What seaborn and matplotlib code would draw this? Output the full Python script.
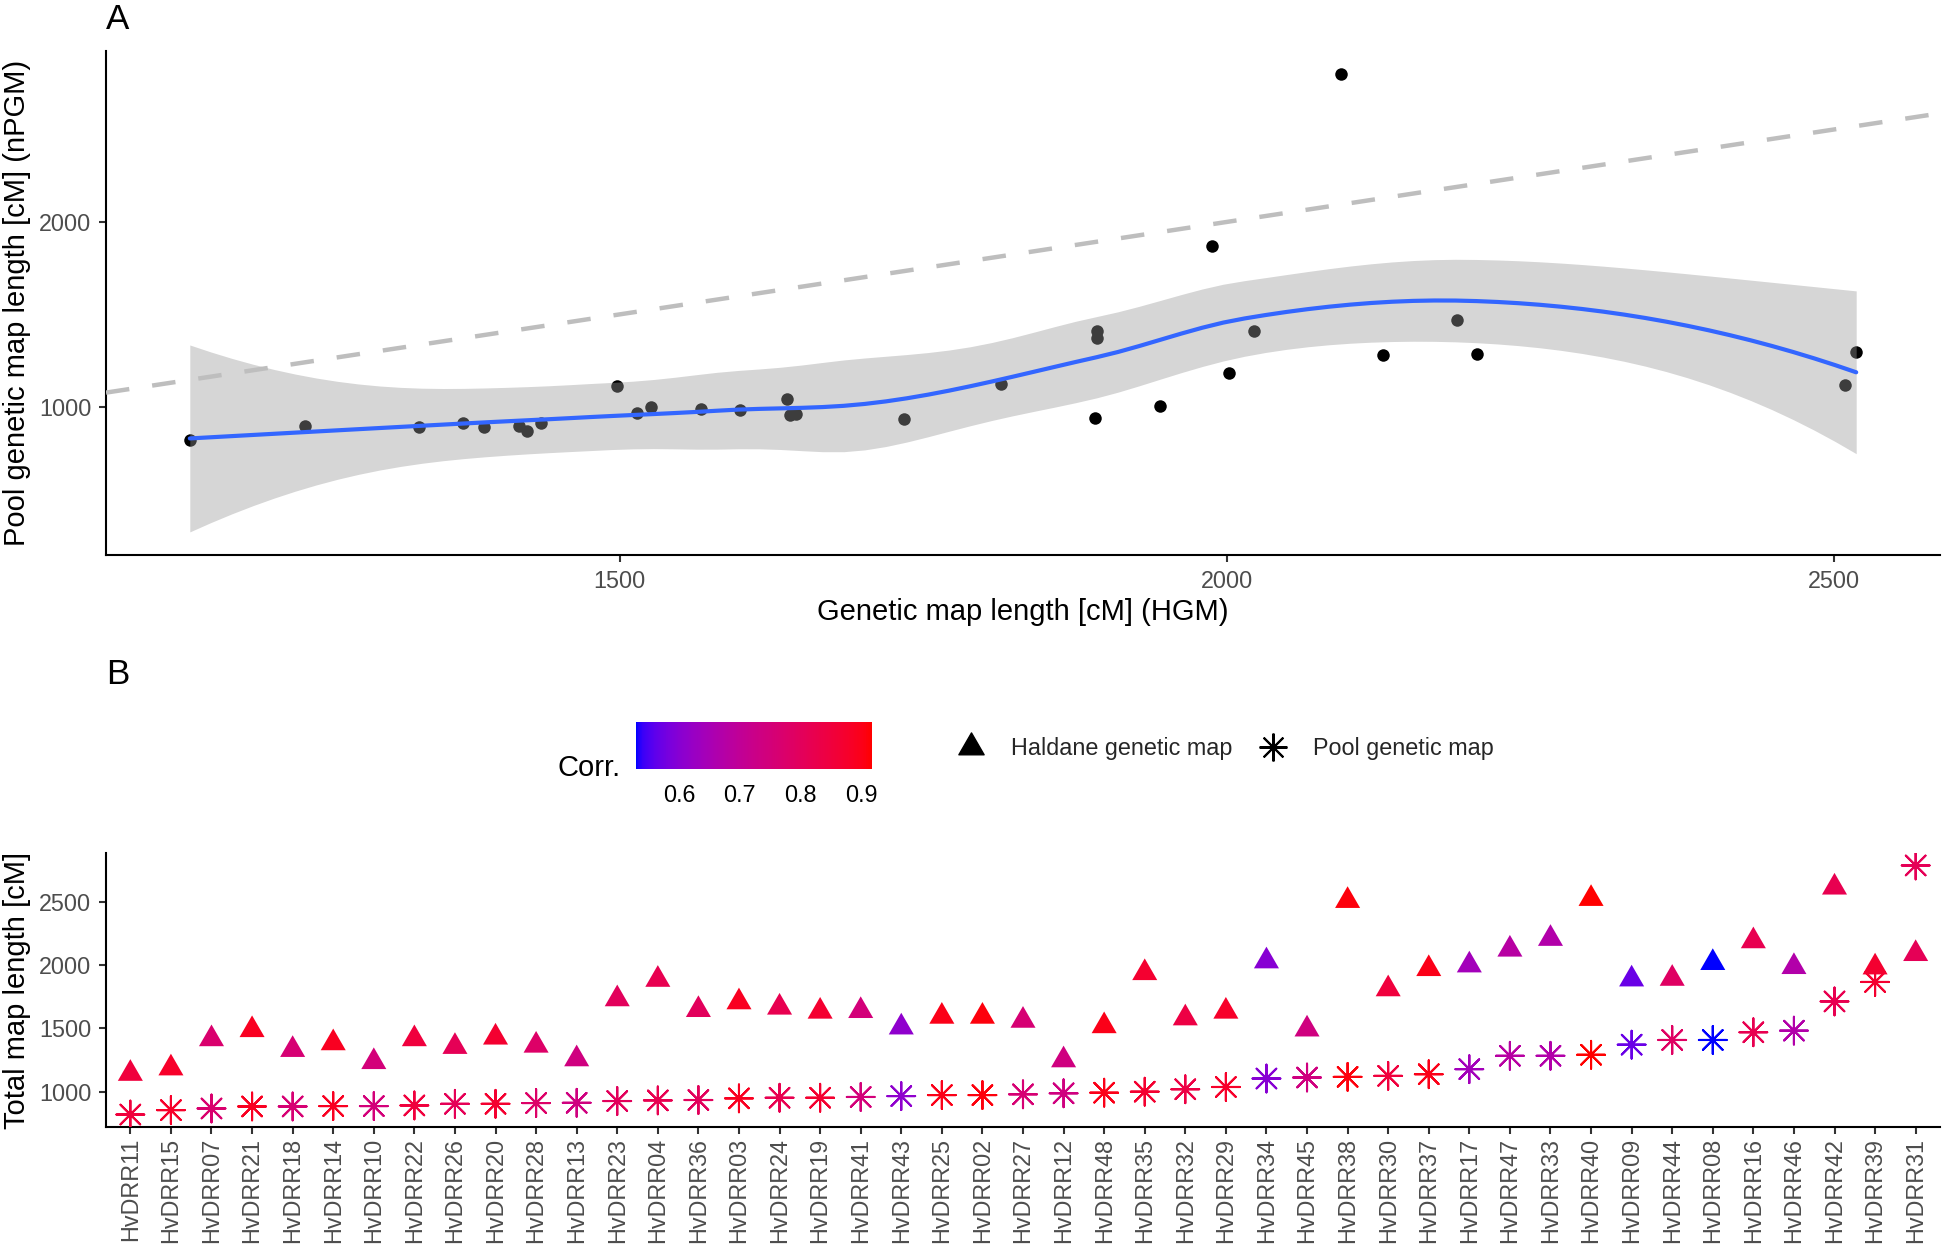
import numpy as np
import pandas as pd
import matplotlib
matplotlib.use("Agg")
import matplotlib.pyplot as plt
import seaborn as sns
from matplotlib.path import Path
from matplotlib.colors import ListedColormap, Normalize
from matplotlib.lines import Line2D
import matplotlib.cm as cm

# ---------------- data ----------------
# Panel A: genetic map length (HGM) vs pool genetic map length (nPGM)
hgm_length = [1146, 1241, 1335, 1371, 1388, 1417, 1424, 1435, 1498, 1514, 1526,
              1567, 1599, 1638, 1640, 1645, 1734, 1814, 1891, 1893, 1893, 1945,
              1988, 2002, 2022, 2094, 2128, 2189, 2206, 2509, 2518]
npgm_length = [820, 897, 892, 913, 892, 897, 867, 913, 1114, 969, 1000,
               986, 981, 1043, 954, 961, 932, 1126, 938, 1410, 1372, 1004,
               1870, 1182, 1412, 2800, 1282, 1472, 1286, 1118, 1296]

# Panel B: populations ordered by pool map length
populations = ["HvDRR11", "HvDRR15", "HvDRR07", "HvDRR21", "HvDRR18", "HvDRR14",
               "HvDRR10", "HvDRR22", "HvDRR26", "HvDRR20", "HvDRR28", "HvDRR13",
               "HvDRR23", "HvDRR04", "HvDRR36", "HvDRR03", "HvDRR24", "HvDRR19",
               "HvDRR41", "HvDRR43", "HvDRR25", "HvDRR02", "HvDRR27", "HvDRR12",
               "HvDRR48", "HvDRR35", "HvDRR32", "HvDRR29", "HvDRR34", "HvDRR45",
               "HvDRR38", "HvDRR30", "HvDRR37", "HvDRR17", "HvDRR47", "HvDRR33",
               "HvDRR40", "HvDRR09", "HvDRR44", "HvDRR08", "HvDRR16", "HvDRR46",
               "HvDRR42", "HvDRR39", "HvDRR31"]
haldane_length = [1143, 1186, 1417, 1489, 1332, 1385, 1236, 1417, 1356, 1430, 1366, 1258,
                  1733, 1887, 1648, 1709, 1667, 1635, 1640, 1510, 1595, 1595, 1563, 1250,
                  1520, 1940, 1582, 1635, 2033, 1494, 2511, 1812, 1972, 2001, 2126, 2211,
                  2527, 1890, 1895, 2020, 2192, 1988, 2617, 1985, 2091]
pool_length = [819, 854, 867, 883, 883, 886, 886, 891, 904, 904, 910, 912,
               926, 931, 934, 947, 952, 952, 958, 965, 973, 973, 979, 987,
               992, 1000, 1019, 1037, 1104, 1112, 1117, 1125, 1138, 1178, 1284, 1284,
               1292, 1372, 1409, 1409, 1470, 1483, 1714, 1868, 2790]
corr_values = [0.85, 0.88, 0.77, 0.89, 0.76, 0.89, 0.75, 0.85, 0.81, 0.87, 0.78, 0.74,
               0.80, 0.82, 0.80, 0.89, 0.82, 0.87, 0.75, 0.61, 0.90, 0.91, 0.76, 0.74,
               0.90, 0.87, 0.84, 0.88, 0.60, 0.74, 0.91, 0.85, 0.90, 0.64, 0.68, 0.67,
               0.917, 0.57, 0.79, 0.53, 0.82, 0.67, 0.82, 0.87, 0.81]
corr_limits = (0.529, 0.918)
corr_ticks = [0.6, 0.7, 0.8, 0.9]
shape_labels = ["Haldane genetic map", "Pool genetic map"]

# ---------------- helpers ----------------
def srgb_to_lab(rgb):
    rgb = np.asarray(rgb, float)
    lin = np.where(rgb <= 0.04045, rgb / 12.92, ((rgb + 0.055) / 1.055) ** 2.4)
    M = np.array([[0.4124564, 0.3575761, 0.1804375],
                  [0.2126729, 0.7151522, 0.0721750],
                  [0.0193339, 0.1191920, 0.9503041]])
    xyz = M @ lin / np.array([0.95047, 1.0, 1.08883])
    d = 6 / 29
    f = np.where(xyz > d ** 3, np.cbrt(xyz), xyz / (3 * d * d) + 4 / 29)
    return np.array([116 * f[1] - 16, 500 * (f[0] - f[1]), 200 * (f[1] - f[2])])

def lab_to_srgb(lab):
    L, a, b = lab
    fy_ = (L + 16) / 116
    fx_ = fy_ + a / 500
    fz_ = fy_ - b / 200
    d = 6 / 29
    f = np.array([fx_, fy_, fz_])
    xyz = np.where(f > d, f ** 3, 3 * d * d * (f - 4 / 29)) * np.array([0.95047, 1.0, 1.08883])
    Minv = np.array([[3.2404542, -1.5371385, -0.4985314],
                     [-0.9692660, 1.8760108, 0.0415560],
                     [0.0556434, -0.2040259, 1.0572252]])
    lin = np.clip(Minv @ xyz, 0, 1)
    rgb = np.where(lin <= 0.0031308, 12.92 * lin, 1.055 * lin ** (1 / 2.4) - 0.055)
    return np.clip(rgb, 0, 1)

lab_lo = srgb_to_lab([0, 0, 1])
lab_hi = srgb_to_lab([1, 0, 0])
grad = [lab_to_srgb(lab_lo + t * (lab_hi - lab_lo)) for t in np.linspace(0, 1, 256)]
corr_cmap = ListedColormap(grad, name="blue_red_lab")
corr_norm = Normalize(*corr_limits)

def t975(df):
    z = 1.959964
    g1 = (z ** 3 + z) / 4
    g2 = (5 * z ** 5 + 16 * z ** 3 + 3 * z) / 96
    g3 = (3 * z ** 7 + 19 * z ** 5 + 17 * z ** 3 - 15 * z) / 384
    return z + g1 / df + g2 / df ** 2 + g3 / df ** 3

def loess(x, y, grid, span=0.75, cell=0.2):
    """Local quadratic regression evaluated on a kd-tree of vertices with
    cubic Hermite interpolation (as R's loess surface='interpolate')."""
    x = np.asarray(x, float); y = np.asarray(y, float)
    n = len(x); q = int(np.floor(n * span))
    xs = np.sort(x)

    def local_ops(x0):
        d = np.abs(x - x0)
        h = max(np.sort(d)[q - 1], 1e-9)
        w = (1 - np.clip(d / h, 0, 1) ** 3) ** 3
        u = (x - x0) / 1000.0
        X = np.vstack([np.ones(n), u, u * u]).T
        XtW = X.T * w
        B = np.linalg.solve(XtW @ X, XtW)
        return B[0], B[1] / 1000.0

    # kd-tree vertices
    fc = int(np.floor(n * span * cell))
    mu = 0.005 * (xs[-1] - xs[0])
    verts = [xs[0] - mu, xs[-1] + mu]

    def split(lo, hi):
        if hi - lo + 1 <= fc:
            return
        m = (lo + hi) // 2
        verts.append((xs[m] + xs[m + 1]) / 2)
        split(lo, m)
        split(m + 1, hi)

    split(0, n - 1)
    verts = np.array(sorted(verts))
    ops = [local_ops(v) for v in verts]

    def interp_op(x0):
        k = int(np.clip(np.searchsorted(verts, x0) - 1, 0, len(verts) - 2))
        v0, v1 = verts[k], verts[k + 1]
        hh = v1 - v0
        t = (x0 - v0) / hh
        h00 = 2 * t ** 3 - 3 * t ** 2 + 1
        h10 = t ** 3 - 2 * t ** 2 + t
        h01 = -2 * t ** 3 + 3 * t ** 2
        h11 = t ** 3 - t ** 2
        l0, d0 = ops[k]
        l1, d1 = ops[k + 1]
        return h00 * l0 + h10 * hh * d0 + h01 * l1 + h11 * hh * d1

    L = np.array([interp_op(v) for v in x])
    IL = np.eye(n) - L
    R = IL.T @ IL
    d1 = np.trace(R); d2 = np.trace(R @ R)
    s = np.sqrt(np.sum((IL @ y) ** 2) / d1)
    Lg = np.array([interp_op(v) for v in grid])
    fit = Lg @ y
    se = s * np.sqrt(np.sum(Lg ** 2, axis=1))
    t = t975(d1 * d1 / d2)
    return fit, fit - t * se, fit + t * se

# ---------------- figure ----------------
W, H, DPI = 1944, 1248, 100
sns.set_theme(style="ticks")
plt.rcParams['font.family'] = ['Liberation Sans', 'DejaVu Sans']

fig = plt.figure(figsize=(W / DPI, H / DPI), dpi=DPI)
fig.patch.set_facecolor("white")

def add_ax(l, t, r, b):
    return fig.add_axes([l / W, 1 - b / H, (r - l) / W, (b - t) / H])

def fxy(px, py):
    return px / W, 1 - py / H

BASE = 21.0
TICK = 16.8

def style_axes(ax):
    for sp in ["top", "right"]:
        ax.spines[sp].set_visible(False)
    for sp in ["left", "bottom"]:
        ax.spines[sp].set_linewidth(1.5)
        ax.spines[sp].set_color("black")
    ax.tick_params(axis="both", length=5, width=1.5, color="#333333",
                   labelcolor="#4D4D4D", labelsize=TICK, pad=5.5)
    ax.set_facecolor("white")
    ax.grid(False)

# ---- Panel A ----
axA = add_ax(106, 51, 1940, 555)
sns.scatterplot(x=hgm_length, y=npgm_length, ax=axA, color="black", s=81,
                linewidth=0, zorder=2, legend=False)
grid = np.linspace(min(hgm_length), max(hgm_length), 80)
fit, lo, hi = loess(hgm_length, npgm_length, grid)
axA.fill_between(grid, lo, hi, color="#999999", alpha=0.4, linewidth=0, zorder=3)
sns.lineplot(x=grid, y=fit, ax=axA, color="#3366FF", linewidth=3.0, zorder=4)
axA.axline((1000, 1000), slope=1, color="#BEBEBE", linewidth=3.2,
           linestyle=(0, (5.3, 5.2)), zorder=5)
axA.set_xlim(1077, 2587)
axA.set_ylim(199, 2924)
axA.set_xticks([1500, 2000, 2500])
axA.set_yticks([1000, 2000])
axA.set_xlabel("")
axA.set_ylabel("")
style_axes(axA)

# ---- Panel B ----
dfB = pd.DataFrame({"population": populations, "haldane": haldane_length,
                    "pool": pool_length, "corr": corr_values})
tri_path = Path([(0, 1), (0.866, -0.5), (-0.866, -0.5), (0, 1)],
                [Path.MOVETO, Path.LINETO, Path.LINETO, Path.CLOSEPOLY])
asterisk = (8, 2, 0)

axB = add_ax(106, 853, 1940, 1127)
sns.scatterplot(data=dfB, x="population", y="haldane", hue="corr", palette=corr_cmap,
                hue_norm=corr_norm, marker=tri_path, s=433, linewidth=0,
                ax=axB, legend=False, zorder=3)
sns.scatterplot(data=dfB, x="population", y="pool", hue="corr", palette=corr_cmap,
                hue_norm=corr_norm, marker=asterisk, s=400, linewidth=1.5,
                ax=axB, legend=False, zorder=3)
ymin = min(pool_length + haldane_length)
ymax = max(pool_length + haldane_length)
rng = ymax - ymin
axB.set_ylim(ymin - 0.05 * rng, ymax + 0.05 * rng)
axB.set_xlim(-0.6, len(populations) - 0.4)
axB.set_yticks([1000, 1500, 2000, 2500])
axB.set_xlabel("")
axB.set_ylabel("")
style_axes(axB)
axB.tick_params(axis="x", labelrotation=90, pad=3)

# ---- Colour legend ----
cax = add_ax(636, 722, 872, 769)
sm = cm.ScalarMappable(norm=corr_norm, cmap=corr_cmap)
cb = fig.colorbar(sm, cax=cax, orientation="horizontal")
cb.set_ticks(corr_ticks)
cb.set_ticklabels([f"{v:.1f}" for v in corr_ticks])
cb.outline.set_visible(False)
cax.xaxis.set_ticks_position("both")
cax.tick_params(axis="x", which="major", direction="in", length=9, width=1.2,
                color="white", labelsize=TICK, labelcolor="black", pad=11,
                labeltop=False, labelbottom=True)
cax.minorticks_off()
fig.text(*fxy(557, 776), "Corr.", ha="left", va="baseline", fontsize=BASE, color="black")

# ---- Shape legend ----
handles = [Line2D([], [], marker=tri_path, color="black", linestyle="none", markersize=21),
           Line2D([], [], marker=asterisk, color="black", linestyle="none",
                  markersize=20, markeredgewidth=1.5)]
fig.legend(handles, shape_labels, loc="center left", bbox_to_anchor=fxy(953, 749),
           ncol=2, frameon=False, fontsize=TICK, handlelength=1.5, handletextpad=0.97,
           columnspacing=1.0, borderpad=0, borderaxespad=0)

# ---- Titles / labels ----
fig.text(*fxy(106, 3), "A", ha="left", va="top", fontsize=25.2, color="black")
fig.text(*fxy(106, 658), "B", ha="left", va="top", fontsize=25.2, color="black")
fig.text(*fxy(1023, 620), "Genetic map length [cM] (HGM)", ha="center", va="baseline",
         fontsize=BASE, color="black")
fig.text(*fxy(17, 303), "Pool genetic map length [cM] (nPGM)", rotation=90,
         ha="center", va="center", fontsize=BASE, color="black")
fig.text(*fxy(17, 990), "Total map length [cM]", rotation=90,
         ha="center", va="center", fontsize=BASE, color="black")

fig.savefig("out.png", dpi=DPI, facecolor="white")
